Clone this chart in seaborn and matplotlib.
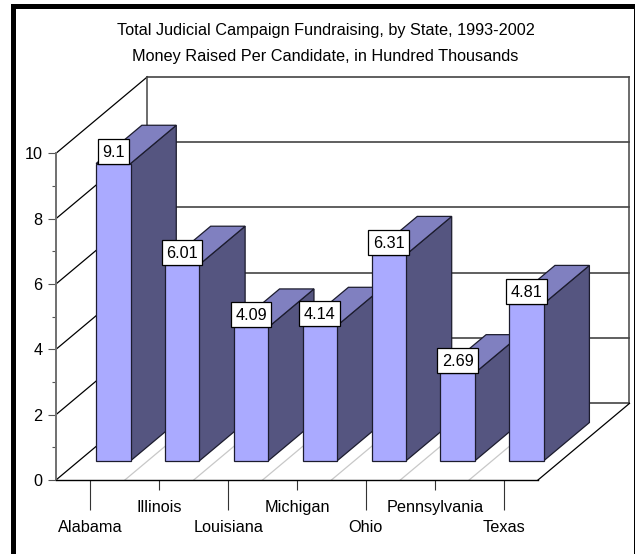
import matplotlib
matplotlib.use("Agg")
import matplotlib.pyplot as plt
from matplotlib.patches import Polygon, Rectangle
from matplotlib.transforms import Affine2D
import pandas as pd
import seaborn as sns

states = ["Alabama", "Illinois", "Louisiana", "Michigan", "Ohio", "Pennsylvania", "Texas"]
raised = [9.1, 6.01, 4.09, 4.14, 6.31, 2.69, 4.81]
raised_labels = ["9.1", "6.01", "4.09", "4.14", "6.31", "2.69", "4.81"]
y_major = [0, 2, 4, 6, 8, 10]
y_minor = [1, 3, 5, 7, 9]
title_lines = ["Total Judicial Campaign Fundraising, by State, 1993-2002",
               "Money Raised Per Candidate, in Hundred Thousands"]

FRONT = "#AAAAFF"
SIDE = "#555580"
TOP = "#8080C0"
EDGE = "#1C1C2E"

W, H = 635, 554
sns.set_style("white")
plt.rcParams["font.family"] = ["Liberation Sans", "DejaVu Sans"]
FONT = 11.7

fig = plt.figure(figsize=(W / 100, H / 100), dpi=100, facecolor="white")


def fx(px):
    return px / W


def fy(py):
    return 1 - py / H


# Black page frame, open along the bottom edge
fig.patches.append(Rectangle((fx(11), 0), fx(635 - 11), fy(4), transform=fig.transFigure,
                             facecolor="black", edgecolor="none", figure=fig, zorder=-3))
fig.patches.append(Rectangle((fx(16), 0), fx(634 - 16), fy(9), transform=fig.transFigure,
                             facecolor="white", edgecolor="none", figure=fig, zorder=-2))

# The axes cover the front plane of the chart box
ax = fig.add_axes([fx(56), fy(480), fx(482), (480 - 153.3) / H])
ax.patch.set_alpha(0)

df = pd.DataFrame({"State": states, "Raised": raised})
sns.barplot(data=df, x="State", y="Raised", order=states, width=0.5, color=FRONT,
            saturation=1, edgecolor=EDGE, linewidth=0.9, ax=ax, zorder=5)
ax.set_xlim(-0.5, len(states) - 0.5)
ax.set_ylim(0, 10)
ax.set_xlabel("")
ax.set_ylabel("")

# Oblique depth vector of the box, in data units
slot_px = 482 / len(states)
unit_px = 326.7 / 10
DX = 91.5 / slot_px
DY = 76.6 / unit_px
BAR_NEAR, BAR_FAR = 0.25, 0.75
x0, x1 = ax.get_xlim()


def depth(x, y, z):
    return (x + z * DX, y + z * DY)


def line(p, q, color, lw=1.0, z=1):
    ax.plot([p[0], q[0]], [p[1], q[1]], color=color, lw=lw, clip_on=False, zorder=z,
            solid_capstyle="projecting")


# Back and side walls with their gridlines
for v in y_major:
    line(depth(x0, v, 0), depth(x0, v, 1), "black", 0.9)
    line(depth(x0, v, 1), depth(x1, v, 1), "#444444", 1.2)
line(depth(x0, 0, 1), depth(x0, 10, 1), "#444444", 1.1)
line(depth(x1, 0, 1), depth(x1, 10, 1), "#444444", 1.1)

# Floor outline and the light separators between categories
line(depth(x1, 0, 0), depth(x1, 0, 1), "black", 0.9)
for k in range(1, len(states)):
    line(depth(x0 + k, 0, 0), depth(x0 + k, 0, 1), "#C8C8C8", 0.9)

# Shift the seaborn bars to their place on the floor and add side and top faces
shift = Affine2D().translate(BAR_NEAR * DX, BAR_NEAR * DY) + ax.transData
half = 0.25
for bar in ax.patches:
    bar.set_transform(shift)
    bar.set_clip_on(False)
for i, v in enumerate(raised):
    l, r = i - half, i + half
    side = [depth(r, 0, BAR_NEAR), depth(r, v, BAR_NEAR), depth(r, v, BAR_FAR), depth(r, 0, BAR_FAR)]
    top = [depth(l, v, BAR_NEAR), depth(r, v, BAR_NEAR), depth(r, v, BAR_FAR), depth(l, v, BAR_FAR)]
    ax.add_patch(Polygon(side, closed=True, facecolor=SIDE, edgecolor=EDGE, lw=0.9,
                         clip_on=False, zorder=3))
    ax.add_patch(Polygon(top, closed=True, facecolor=TOP, edgecolor=EDGE, lw=0.9,
                         clip_on=False, zorder=3))

# Value boxes sit on the top front edge of each bar
renderer = fig.canvas.get_renderer()
BOX_H = 25
for i, (v, s) in enumerate(zip(raised, raised_labels)):
    cx, cy = depth(i, v, BAR_NEAR)
    anchor = ax.transData.transform((cx, cy))
    t = ax.annotate(s, (cx, cy), xytext=(0, (BOX_H / 2 - 1) * 0.72), textcoords="offset points",
                    ha="center", va="center", fontsize=FONT, color="black",
                    annotation_clip=False, zorder=8)
    w = t.get_window_extent(renderer).width + 9
    ax.add_patch(Rectangle((anchor[0] - w / 2, anchor[1]), w, BOX_H, transform=None,
                           facecolor="white", edgecolor="black", lw=0.9, clip_on=False, zorder=7))

# Axis lines, ticks and labels on the front plane
for name in ("top", "right"):
    ax.spines[name].set_visible(False)
ax.spines["left"].set_color("#707070")
ax.spines["left"].set_linewidth(1.4)
ax.spines["left"].set_zorder(2)
ax.spines["bottom"].set_color("black")
ax.spines["bottom"].set_linewidth(1.0)
ax.set_yticks(y_major)
ax.set_yticks(y_minor, minor=True)
ax.tick_params(axis="y", which="major", length=5.8, width=0.8, color="#555555", left=True,
               pad=4, labelsize=FONT, labelcolor="black")
ax.tick_params(axis="y", which="minor", length=2.9, width=0.8, color="#555555", left=True)
ax.tick_params(axis="x", length=7.2, width=0.8, color="#333333", bottom=True, pad=7.5,
               labelsize=FONT, labelcolor="black")
# Every other category label drops to a second row on a longer tick
for i, tick in enumerate(ax.xaxis.get_major_ticks()):
    if i % 2 == 0:
        tick.set_pad(21.5)
        tick.tick1line.set_markersize(21.6)

for text, py in zip(title_lines, (30, 57)):
    fig.text(fx(325.5), fy(py), text, ha="center", va="center", fontsize=FONT, color="black")

fig.savefig("out.png", dpi=100, facecolor="white")
